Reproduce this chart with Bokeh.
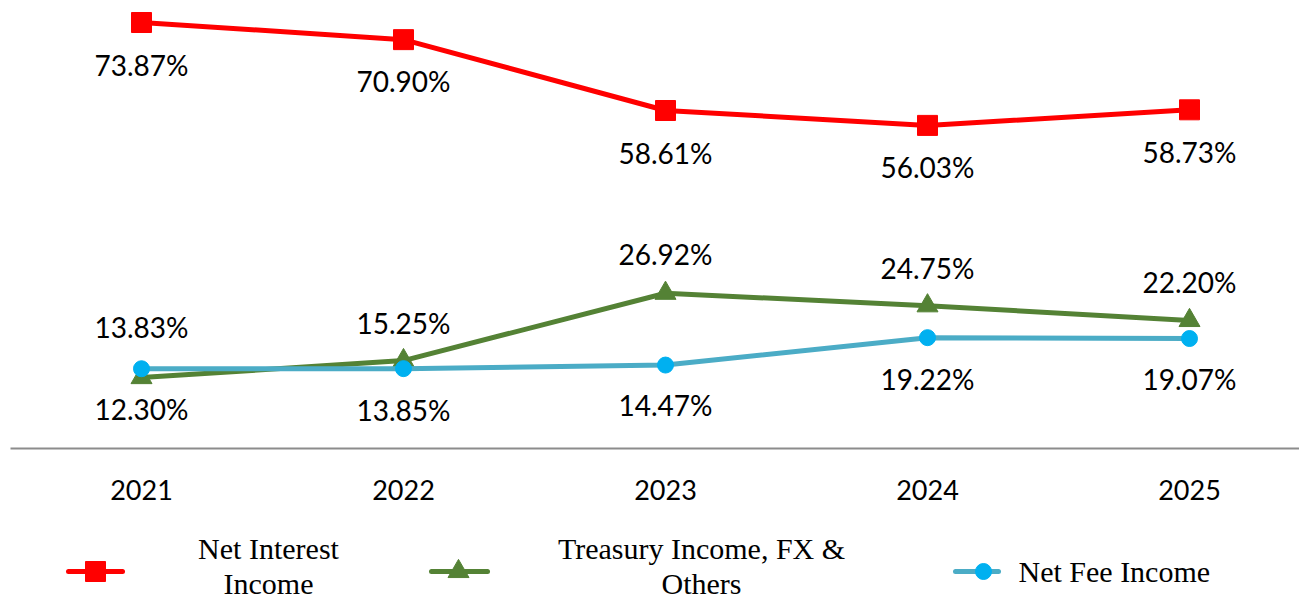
from bokeh.plotting import figure
from bokeh.layouts import column
from bokeh.models import Range1d, FixedTicker, ColumnDataSource
from bokeh.core.properties import value
from bokeh.embed import file_html
from bokeh.resources import INLINE

# ---------------- data ----------------
years = ["2021", "2022", "2023", "2024", "2025"]
net_interest = [73.87, 70.90, 58.61, 56.03, 58.73]
treasury_fx = [12.30, 15.25, 26.92, 24.75, 22.20]
net_fee = [13.83, 13.85, 14.47, 19.22, 19.07]

series_names = ["Net Interest\nIncome", "Treasury Income, FX &\nOthers", "Net Fee Income"]

# label placement (screen px, + = below the point)
nii_dy = [42, 41, 42, 42, 42]
tfx_dy = [31, -38, -39, -38, -38]
fee_dy = [-42, 41, 40, 41, 40]

RED = "#FF0000"
GREEN = "#548235"
BLUE_LINE = "#4BACC6"
BLUE_MARK = "#00B0F0"
LABEL_FONT = value("Lato")
LEGEND_FONT = value("Liberation Serif")

xs = list(range(len(years)))

FRAME_L = 10
FRAME_W = 1289

p = figure(frame_width=FRAME_W, frame_height=440, output_backend="svg",
           toolbar_location=None, x_range=Range1d(-0.5, -0.5 + FRAME_W / 262.0),
           y_range=Range1d(0, 76.3), min_border_left=FRAME_L, min_border_right=0,
           min_border_top=8, min_border_bottom=64)
p.outline_line_color = None
p.grid.visible = False
p.yaxis.visible = False
p.background_fill_color = "white"
p.border_fill_color = "white"

ax = p.xaxis[0]
ax.ticker = FixedTicker(ticks=xs)
ax.major_label_overrides = {i: y for i, y in enumerate(years)}
ax.axis_line_color = "#8c8c8c"
ax.axis_line_width = 2
ax.major_tick_line_color = None
ax.minor_tick_line_color = None
ax.major_tick_out = 0
ax.major_tick_in = 0
ax.major_label_standoff = 31
ax.major_label_text_font = "Lato"
ax.major_label_text_font_size = "27px"
ax.major_label_text_color = "black"


def fmt(v):
    return [f"{x:.2f}%" for x in v]


# Net interest income
src_n = ColumnDataSource(dict(x=xs, y=net_interest, t=fmt(net_interest), dy=nii_dy))
p.line("x", "y", source=src_n, line_color=RED, line_width=5)
p.scatter("x", "y", source=src_n, marker="square", size=20, fill_color=RED, line_color=RED)

# Treasury / FX
src_t = ColumnDataSource(dict(x=xs, y=treasury_fx, t=fmt(treasury_fx), dy=tfx_dy))
p.line("x", "y", source=src_t, line_color=GREEN, line_width=5)
p.scatter("x", "y", source=src_t, marker="triangle", size=21, fill_color=GREEN, line_color=GREEN)

# Net fee income
src_f = ColumnDataSource(dict(x=xs, y=net_fee, t=fmt(net_fee), dy=fee_dy))
p.line("x", "y", source=src_f, line_color=BLUE_LINE, line_width=5)
p.scatter("x", "y", source=src_f, marker="circle", size=16, fill_color=BLUE_MARK, line_color=BLUE_MARK)

for src in (src_n, src_t, src_f):
    p.text("x", "y", text="t", y_offset="dy", source=src, text_font=LABEL_FONT,
           text_font_size="28px", text_color="black", text_align="center",
           text_baseline="middle")

# ---------------- legend (separate strip, frame aligned with main frame) ----------------
lg = figure(frame_width=FRAME_W, height=90, output_backend="svg", toolbar_location=None,
            x_range=Range1d(FRAME_L, FRAME_L + FRAME_W), y_range=Range1d(90, 0),
            min_border_left=FRAME_L, min_border_right=0, min_border_top=0,
            min_border_bottom=0)
lg.outline_line_color = None
lg.grid.visible = False
lg.axis.visible = False
lg.background_fill_color = "white"
lg.border_fill_color = "white"

mark_y = 59
items = [
    dict(x0=68, x1=122, mx=95, color=RED, mcolor=RED, marker="square", size=20),
    dict(x0=431, x1=487, mx=458, color=GREEN, mcolor=GREEN, marker="triangle", size=21),
    dict(x0=955, x1=998, mx=983, color=BLUE_LINE, mcolor=BLUE_MARK, marker="circle", size=16),
]
for it in items:
    lg.line([it["x0"], it["x1"]], [mark_y, mark_y], line_color=it["color"],
            line_width=5, line_cap="round")
    lg.scatter([it["mx"]], [mark_y], marker=it["marker"], size=it["size"],
               fill_color=it["mcolor"], line_color=it["mcolor"])

text_pos = [(268, [36, 71], "center"), (701, [36, 71], "center"), (1018, [59], "left")]
tx, ty, tt, ta = [], [], [], []
for name, (cx, ys, al) in zip(series_names, text_pos):
    for line_txt, yy in zip(name.split("\n"), ys):
        tx.append(cx); ty.append(yy); tt.append(line_txt); ta.append(al)
lg.text(tx, ty, text=tt, text_align=ta, text_baseline="middle",
        text_font=LEGEND_FONT, text_font_size="30px", text_color="black")

layout = column(p, lg, spacing=0)
open("out.html", "w").write(file_html(layout, INLINE))
